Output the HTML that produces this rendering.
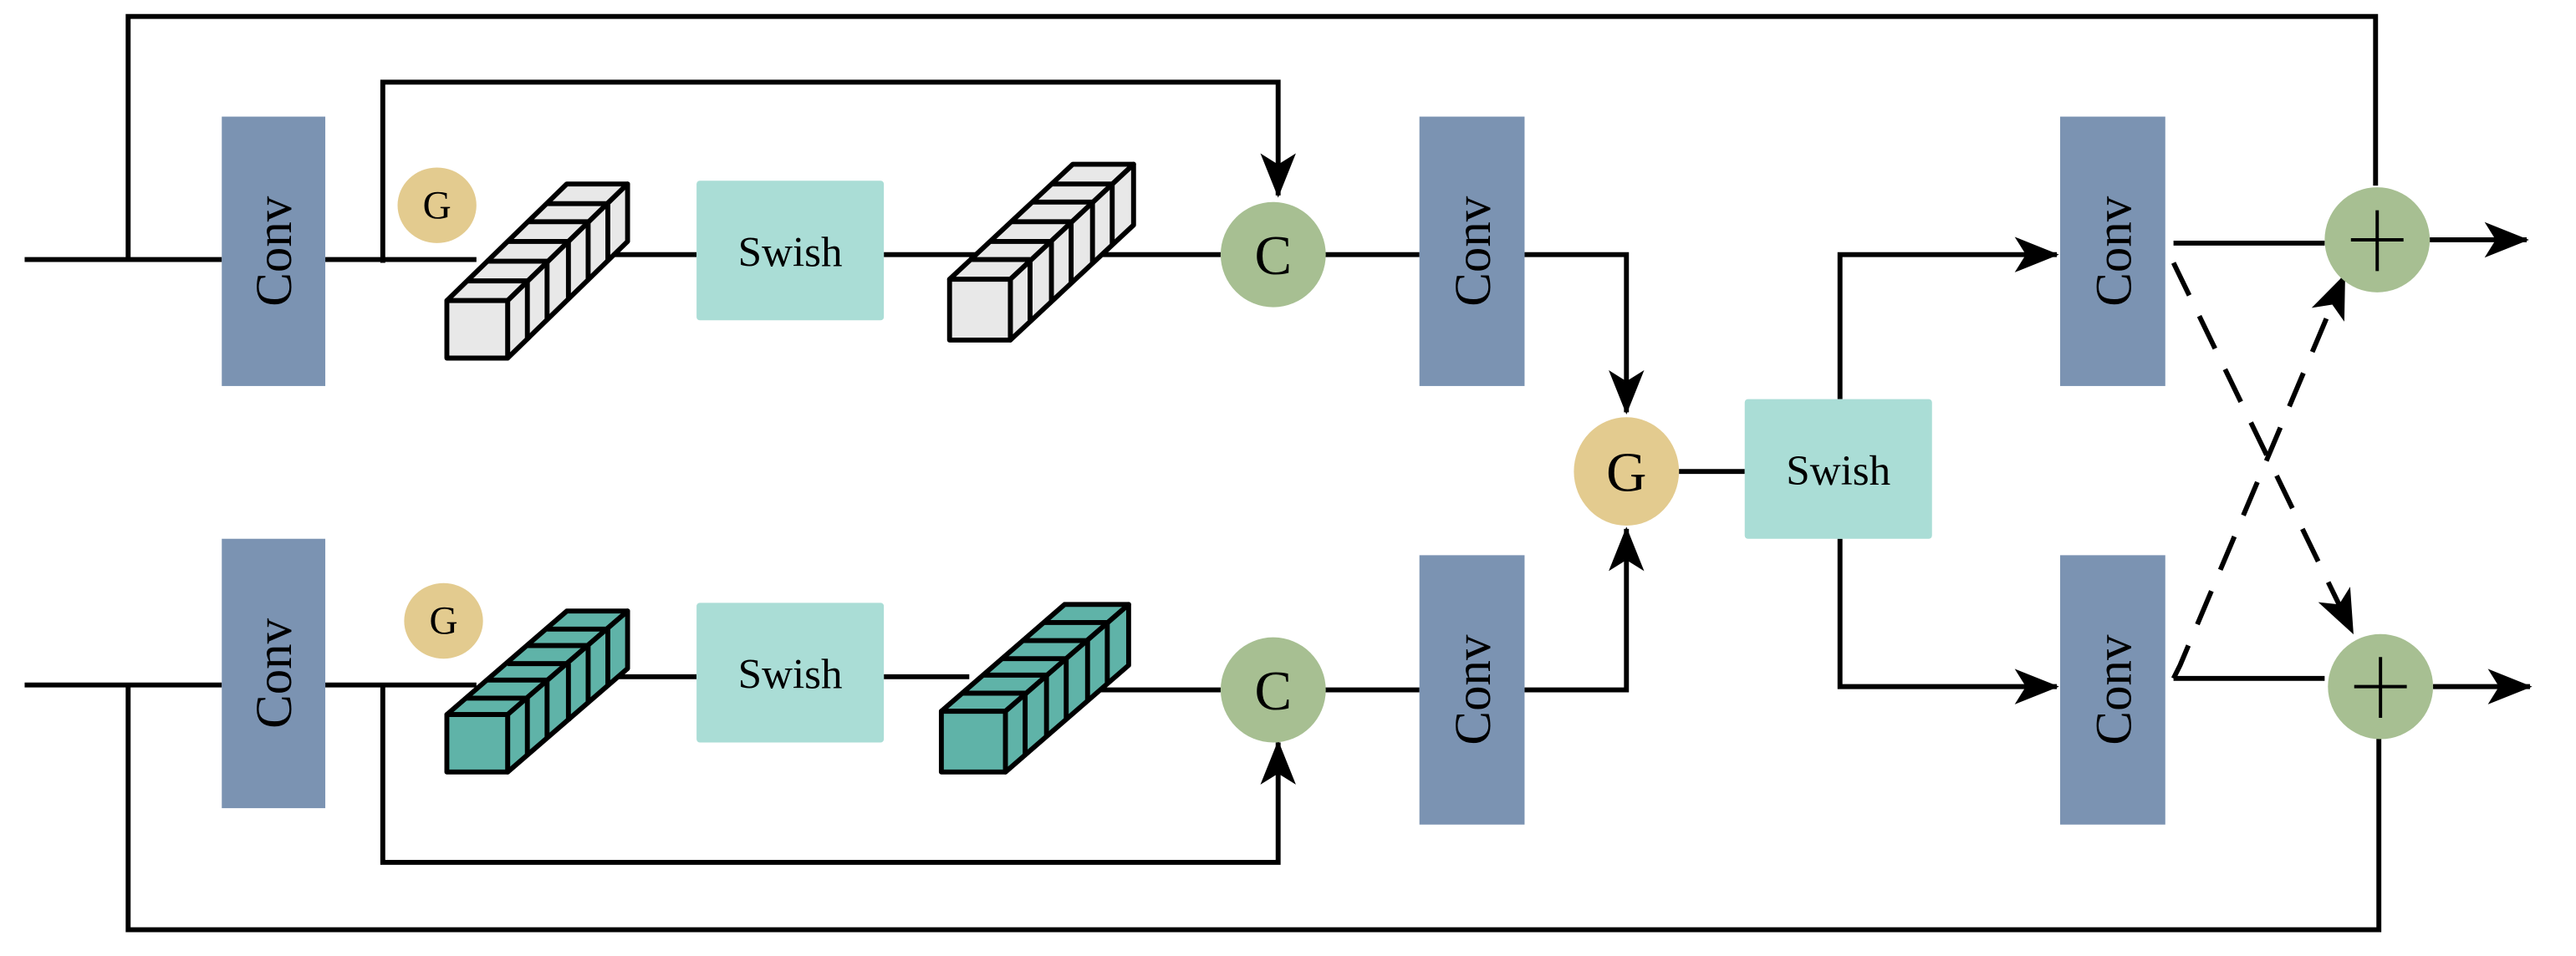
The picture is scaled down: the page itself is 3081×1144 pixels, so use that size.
<!DOCTYPE html>
<html><head><meta charset="utf-8"><style>
html,body{margin:0;padding:0;background:#fff}
svg{display:block}
text{font-family:"Liberation Serif",serif;fill:#000}
</style></head><body>
<svg width="3081" height="1144" viewBox="0 0 1568 582" preserveAspectRatio="none" xmlns="http://www.w3.org/2000/svg">
<defs>
<marker id="a" viewBox="0 0 20 16" refX="19" refY="8" markerWidth="9" markerHeight="7.5" markerUnits="strokeWidth" orient="auto"><path d="M0,0 L20,8 L0,16 L5,8 Z" fill="#000"/></marker>
</defs>
<g stroke="#000" stroke-width="3" fill="none">
<polyline points="78,158 78,10 1446,10 1446,113"/>
<polyline points="78,417 78,566 1448,566 1448,449"/>
<line x1="15" y1="158" x2="135" y2="158"/>
<line x1="15" y1="417" x2="135" y2="417"/>
<line x1="198" y1="158" x2="290" y2="158"/>
<polyline points="233,160 233,50 778,50 778,119" marker-end="url(#a)"/>
<line x1="365" y1="155" x2="424" y2="155"/>
<line x1="538" y1="155" x2="600" y2="155"/>
<line x1="670" y1="155" x2="743" y2="155"/>
<line x1="806" y1="155" x2="864" y2="155"/>
<polyline points="928,155 990,155 990,251" marker-end="url(#a)"/>
<line x1="198" y1="417" x2="290" y2="417"/>
<polyline points="233,417 233,525 778,525 778,452" marker-end="url(#a)"/>
<line x1="365" y1="412" x2="424" y2="412"/>
<line x1="538" y1="412" x2="590" y2="412"/>
<line x1="665" y1="420" x2="743" y2="420"/>
<line x1="806" y1="420" x2="864" y2="420"/>
<polyline points="928,420 990,420 990,322" marker-end="url(#a)"/>
<line x1="1022" y1="287" x2="1062" y2="287"/>
<polyline points="1120,243 1120,155 1252,155" marker-end="url(#a)"/>
<polyline points="1120,328 1120,418 1252,418" marker-end="url(#a)"/>
<line x1="1323" y1="148" x2="1415" y2="148"/>
<line x1="1323" y1="413" x2="1415" y2="413"/>
<line x1="1479" y1="146" x2="1538" y2="146" marker-end="url(#a)"/>
<line x1="1481" y1="418" x2="1540" y2="418" marker-end="url(#a)"/>
<polyline stroke-dasharray="22,14" points="1323,160 1432,385" marker-end="url(#a)"/>
<polyline stroke-dasharray="22,14" points="1323,413 1327,405 1427,168" marker-end="url(#a)"/>
</g>
<g fill="#7b93b2">
<rect x="135" y="71" width="63" height="164"/>
<rect x="135" y="328" width="63" height="164"/>
<rect x="864" y="71" width="64" height="164"/>
<rect x="864" y="338" width="64" height="164"/>
<rect x="1254" y="71" width="64" height="164"/>
<rect x="1254" y="338" width="64" height="164"/>
</g>
<g font-size="31" text-anchor="middle">
<text transform="translate(177,153) rotate(-90)">Conv</text>
<text transform="translate(177,410) rotate(-90)">Conv</text>
<text transform="translate(907,153) rotate(-90)">Conv</text>
<text transform="translate(907,420) rotate(-90)">Conv</text>
<text transform="translate(1297,153) rotate(-90)">Conv</text>
<text transform="translate(1297,420) rotate(-90)">Conv</text>
</g>
<g fill="#aaddd6">
<rect x="424" y="110" width="114" height="85" rx="2"/>
<rect x="424" y="367" width="114" height="85" rx="2"/>
<rect x="1062" y="243" width="114" height="85" rx="2"/>
</g>
<g font-size="26" text-anchor="middle">
<text x="481" y="162">Swish</text>
<text x="481" y="419">Swish</text>
<text x="1119" y="295">Swish</text>
</g>
<ellipse cx="266" cy="125" rx="24" ry="23" fill="#e3cb8f"/>
<ellipse cx="270" cy="378" rx="24" ry="23" fill="#e3cb8f"/>
<ellipse cx="990" cy="287" rx="32" ry="33" fill="#e3cb8f"/>
<ellipse cx="775" cy="155" rx="32" ry="32" fill="#a7bf92"/>
<ellipse cx="775" cy="420" rx="32" ry="32" fill="#a7bf92"/>
<ellipse cx="1447" cy="146" rx="32" ry="32" fill="#a7bf92"/>
<ellipse cx="1449" cy="418" rx="32" ry="32" fill="#a7bf92"/>
<g font-size="24" text-anchor="middle"><text x="266" y="133">G</text><text x="270" y="386">G</text></g>
<g font-size="34" text-anchor="middle">
<text x="990" y="299">G</text><text x="775" y="167">C</text><text x="775" y="432">C</text>
</g>
<g stroke="#000" stroke-width="2">
<line x1="1431" y1="146" x2="1463" y2="146"/><line x1="1447" y1="128" x2="1447" y2="165"/>
<line x1="1433" y1="418" x2="1465" y2="418"/><line x1="1449" y1="400" x2="1449" y2="437"/>
</g>
<g stroke="#000" stroke-width="3" stroke-linejoin="round">
<g fill="#e8e8e8">
<polygon points="272,183 309,183 382,112 345,112"/>
<polygon points="309,183 382,112 382,147 309,218"/>
<rect x="272" y="183" width="37" height="35"/>
<path d="M284,171 L321,171 M296,159 L333,159 M309,147 L346,147 M321,135 L358,135 M333,124 L370,124 M321,171 L321,206 M333,159 L333,194 M346,147 L346,182 M358,135 L358,171 M370,124 L370,159" fill="none"/>
<polygon points="578,170 615,170 690,100 653,100"/>
<polygon points="615,170 690,100 690,137 615,207"/>
<rect x="578" y="170" width="37" height="37"/>
<path d="M590,158 L627,158 M603,147 L640,147 M615,135 L652,135 M628,123 L665,123 M640,112 L677,112 M627,158 L627,195 M640,147 L640,184 M652,135 L652,172 M665,123 L665,160 M677,112 L677,149" fill="none"/>
</g>
<g fill="#5fb3a8">
<polygon points="272,435 309,435 382,372 345,372"/>
<polygon points="309,435 382,372 382,407 309,470"/>
<rect x="272" y="435" width="37" height="35"/>
<path d="M284,425 L321,425 M296,414 L333,414 M309,404 L346,404 M321,393 L358,393 M333,383 L370,383 M321,425 L321,460 M333,414 L333,449 M346,404 L346,439 M358,393 L358,428 M370,383 L370,418" fill="none"/>
<polygon points="573,433 612,433 687,368 648,368"/>
<polygon points="612,433 687,368 687,405 612,470"/>
<rect x="573" y="433" width="39" height="37"/>
<path d="M585,422 L624,422 M598,411 L637,411 M610,401 L649,401 M623,390 L662,390 M635,379 L674,379 M624,422 L624,459 M637,411 L637,448 M649,401 L649,438 M662,390 L662,427 M674,379 L674,416" fill="none"/>
</g>
</g>
</svg>
</body></html>
